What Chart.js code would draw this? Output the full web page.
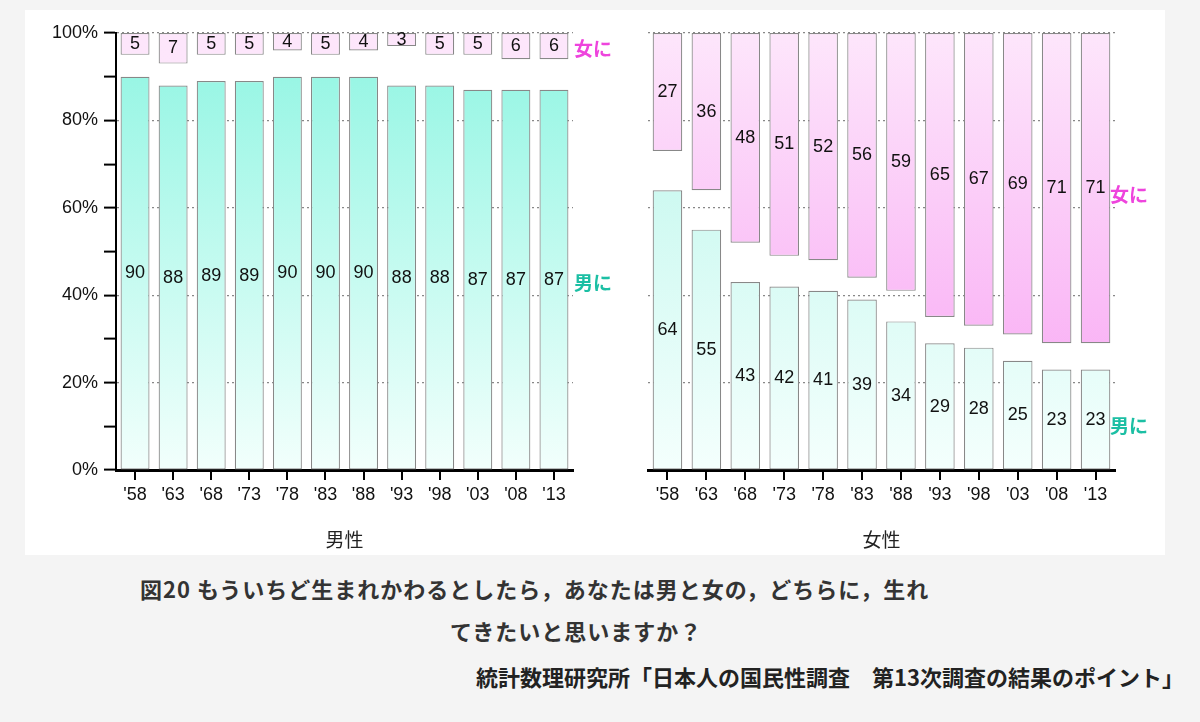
<!DOCTYPE html>
<html><head><meta charset="utf-8">
<script src="https://cdn.jsdelivr.net/npm/chart.js@4.4.1/dist/chart.umd.min.js"></script>
<style>
html,body{margin:0;padding:0;background:#f4f4f4;width:1200px;height:722px;overflow:hidden;font-family:"Noto Sans CJK JP",sans-serif;}
#panel{position:absolute;left:25px;top:10px;width:1140px;height:545px;background:#fff;}
.c{position:absolute;}
.lab{position:absolute;font-size:19px;font-weight:bold;}
.cap{position:absolute;font-size:22px;font-weight:bold;color:#333;letter-spacing:1px;white-space:nowrap;}
</style></head><body>
<div id="panel"></div>
<div class="c" style="left:25px;top:10px;width:600px;height:545px"><canvas id="cl"></canvas></div>
<div class="c" style="left:625px;top:10px;width:540px;height:545px"><canvas id="cr"></canvas></div>
<div class="lab" style="left:574px;top:34px;color:#ee44dd">女に</div>
<div class="lab" style="left:574px;top:268px;color:#1cbfa4">男に</div>
<div class="lab" style="left:1110px;top:180px;color:#ee44dd">女に</div>
<div class="lab" style="left:1110px;top:411px;color:#1cbfa4">男に</div>
<div class="cap" style="left:140px;top:572px">図20 もういちど生まれかわるとしたら，あなたは男と女の，どちらに，生れ</div>
<div class="cap" style="left:450px;top:614px">てきたいと思いますか？</div>
<div class="cap" style="right:16px;top:660px;color:#222;font-size:22px;letter-spacing:0">統計数理研究所「日本人の国民性調査　第13次調査の結果のポイント」</div>
<script>
const years=["'58","'63","'68","'73","'78","'83","'88","'93","'98","'03","'08","'13"];
const menMale=[90,88,89,89,90,90,90,88,88,87,87,87];
const menFemale=[5,7,5,5,4,5,4,3,5,5,6,6];
const womenMale=[64,55,43,42,41,39,34,29,28,25,23,23];
const womenFemale=[27,36,48,51,52,56,59,65,67,69,71,71];
const yTicks=[0,20,40,60,80,100];

function grad(ctx,area,top,bot){
  if(!area) return top;
  const g=ctx.createLinearGradient(0,area.top,0,area.bottom);
  g.addColorStop(0,top);g.addColorStop(1,bot);return g;
}
const labelPlugin={id:'vals',afterDatasetsDraw(chart){
  const ctx=chart.ctx;ctx.save();ctx.fillStyle='#111';ctx.font='18px "Liberation Sans",Arial';
  ctx.textAlign='center';ctx.textBaseline='middle';
  chart.data.datasets.forEach((ds,di)=>{
    const meta=chart.getDatasetMeta(di);
    meta.data.forEach((el,i)=>{
      const r=ds.data[i];const y=chart.scales.y.getPixelForValue((r[0]+r[1])/2);
      ctx.fillText(String(ds.vals[i]),el.x,y);
    });
  });
  ctx.restore();
}};
function make(id,male,female,left){
  const malePairs=male.map(v=>[0,v]);
  const femPairs=female.map(v=>[100-v,100]);
  return new Chart(document.getElementById(id),{
    type:'bar',
    data:{labels:years,datasets:[
      {vals:male,data:malePairs,borderColor:'#888',borderWidth:1.2,borderSkipped:false,
       backgroundColor:c=>grad(c.chart.ctx,c.chart.chartArea,left?'#8ff5e2':'#b8f6ea',left?'#f2fffc':'#f4fffd')},
      {vals:female,data:femPairs,borderColor:'#888',borderWidth:1.2,borderSkipped:false,
       backgroundColor:c=>grad(c.chart.ctx,c.chart.chartArea,'#fde6fb',left?'#fbe4fb':'#f8a2f3')}
    ]},
    options:{responsive:true,maintainAspectRatio:false,animation:false,
      layout:{padding:{top:23,right:left?52:50,left:0,bottom:0}},
      plugins:{legend:{display:false},tooltip:{enabled:false}},
      datasets:{bar:{grouped:false,categoryPercentage:0.76,barPercentage:1}},
      scales:{
        x:{offset:true,grid:{display:true,offset:false,drawOnChartArea:false,color:'#000',lineWidth:2,tickLength:10},
           border:{color:'#000',width:3},
           ticks:{color:'#111',font:{size:18,family:'"Liberation Sans",Arial'},padding:4,maxRotation:0,autoSkip:false},
           title:{display:true,text:left?'男性':'女性',color:'#222',font:{size:19,family:'"Noto Sans CJK JP"'},padding:{top:4}},
           afterFit(s){s.height=85;}},
        y:{min:0,max:100,
           ticks:{display:left,stepSize:10,color:'#111',font:{size:18,family:'"Liberation Sans",Arial'},padding:6,
             callback:v=>v%20===0?v+'%':''},
           grid:{drawTicks:left,tickLength:12,tickColor:'#000',tickWidth:2,
             color:c=>(c.tick&&c.tick.value%20===0&&c.tick.value>0)?'#888':'rgba(0,0,0,0)',lineWidth:1.2},
           border:{display:left,color:'#000',width:2,dash:[2,3]},
           afterFit(s){s.width=left?91:23;}}
      }},
    plugins:[labelPlugin]
  });
}
Chart.defaults.scale.grid.tickBorderDash=[];
make('cl',menMale,menFemale,true);
make('cr',womenMale,womenFemale,false);
</script></body></html>
